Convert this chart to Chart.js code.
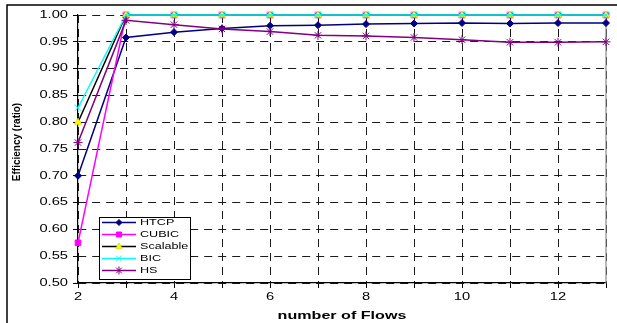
<!DOCTYPE html>
<html>
<head>
<meta charset="utf-8">
<script src="https://cdn.jsdelivr.net/npm/chart.js@4/dist/chart.umd.min.js"></script>
<style>
  html, body { margin: 0; padding: 0; background: #fff; }
  canvas { display: block; }
</style>
</head>
<body>
<canvas id="eff" width="617" height="323"></canvas>
<script>
// Number of parallel flows on the x axis
const flows = [2, 3, 4, 5, 6, 7, 8, 9, 10, 11, 12, 13];

// Efficiency ratio per TCP variant
const htcp     = [0.700, 0.958, 0.968, 0.975, 0.980, 0.981, 0.983, 0.984, 0.985, 0.984, 0.985, 0.985];
const cubic    = [0.575, 1.000, 1.000, 1.000, 1.000, 1.000, 1.000, 1.000, 1.000, 1.000, 1.000, 1.000];
const scalable = [0.800, 1.000, 1.000, 1.000, 1.000, 1.000, 1.000, 1.000, 1.000, 1.000, 1.000, 1.000];
const bic      = [0.827, 1.000, 1.000, 1.000, 1.000, 1.000, 1.000, 1.000, 1.000, 1.000, 1.000, 1.000];
const hs       = [0.762, 0.990, 0.982, 0.974, 0.969, 0.962, 0.961, 0.958, 0.954, 0.949, 0.949, 0.950];

const seriesNames = ['HTCP', 'CUBIC', 'Scalable', 'BIC', 'HS'];
const xTickLabels = ['2', '4', '6', '8', '10', '12'];
const yMin = 0.50, yMax = 1.00, yStep = 0.05;

const FONT = '"Liberation Sans", Arial, Helvetica, sans-serif';
const TEXT_SX = 1.4; // horizontal text is drawn slightly widened

const pts = arr => flows.map((x, i) => ({ x: x, y: arr[i] }));

function series(label, values, line, fill, stroke, style, radius, order) {
  return {
    label: label,
    data: pts(values),
    borderColor: line,
    backgroundColor: line,
    borderWidth: 1.5,
    pointStyle: style,
    pointRadius: radius,
    pointHoverRadius: radius,
    pointBackgroundColor: fill,
    pointBorderColor: stroke,
    pointBorderWidth: 1,
    tension: 0,
    clip: false,
    order: order
  };
}

const datasets = [
  series(seriesNames[0], htcp,     '#000080', '#000080', '#000080', 'rectRot',  3.5, 5),
  series(seriesNames[1], cubic,    '#FF00FF', '#FF00FF', '#FF00FF', 'rect',     4,   4),
  series(seriesNames[2], scalable, '#000000', '#FFFF00', '#E0E000', 'triangle', 4,   3),
  series(seriesNames[3], bic,      '#00FFFF', '#00FFFF', '#00FFFF', 'crossRot', 4.5, 2),
  series(seriesNames[4], hs,       '#800080', '#800080', '#800080', 'star',     4.5, 1)
];

// Widen glyphs horizontally (skipped for rotated text)
const wideText = {
  id: 'wideText',
  beforeInit(chart) {
    const ctx = chart.ctx;
    const base = CanvasRenderingContext2D.prototype.fillText;
    ctx.fillText = function (text, x, y, maxWidth) {
      const t = this.getTransform();
      if (Math.abs(t.b) > 1e-6 || Math.abs(t.c) > 1e-6) {
        return maxWidth === undefined ? base.call(this, text, x, y) : base.call(this, text, x, y, maxWidth);
      }
      this.save();
      this.translate(x, y);
      this.scale(TEXT_SX, 1);
      if (maxWidth === undefined) base.call(this, text, 0, 0);
      else base.call(this, text, 0, 0, maxWidth / TEXT_SX);
      this.restore();
    };
  }
};

// Outer frame, plot right edge, axis titles and the boxed legend
const decorations = {
  id: 'decorations',
  beforeDraw(chart) {
    const ctx = chart.ctx;
    ctx.save();
    ctx.strokeStyle = '#000';
    ctx.lineWidth = 1.5;
    ctx.beginPath();
    ctx.moveTo(7, chart.height);
    ctx.lineTo(7, 5);
    ctx.lineTo(chart.width, 5);
    ctx.stroke();
    ctx.restore();
  },
  beforeDatasetsDraw(chart) {
    const ctx = chart.ctx, a = chart.chartArea;
    ctx.save();
    ctx.strokeStyle = '#8a8a8a';
    ctx.lineWidth = 1.2;
    ctx.beginPath();
    ctx.moveTo(a.right, a.top);
    ctx.lineTo(a.right, a.bottom);
    ctx.stroke();
    ctx.restore();
  },
  afterDraw(chart) {
    const ctx = chart.ctx, a = chart.chartArea;
    ctx.save();
    // y axis title
    ctx.fillStyle = '#000';
    ctx.font = 'bold 10px ' + FONT;
    ctx.textAlign = 'center';
    ctx.textBaseline = 'middle';
    ctx.translate(17, 142);
    ctx.rotate(-Math.PI / 2);
    ctx.fillText('Efficiency (ratio)', 0, 0);
    ctx.restore();

    ctx.save();
    ctx.fillStyle = '#000';
    ctx.font = 'bold 11.5px ' + FONT;
    ctx.textAlign = 'center';
    ctx.textBaseline = 'alphabetic';
    ctx.fillText('number of Flows', (a.left + a.right) / 2, 319);
    ctx.restore();

    // legend box
    const left = a.left + 21, top = a.top + 202, w = 91, h = 62;
    ctx.save();
    ctx.fillStyle = '#fff';
    ctx.fillRect(left, top, w, h);
    ctx.strokeStyle = '#000';
    ctx.lineWidth = 1;
    ctx.strokeRect(left + 0.5, top + 0.5, w, h);
    chart.data.datasets.forEach((ds, i) => {
      const y = top + 5.5 + i * 12;
      ctx.strokeStyle = ds.borderColor;
      ctx.lineWidth = 1.5;
      ctx.beginPath();
      ctx.moveTo(left + 3, y);
      ctx.lineTo(left + 37, y);
      ctx.stroke();
      if (Chart.helpers && Chart.helpers.drawPoint) {
        ctx.fillStyle = ds.pointBackgroundColor;
        ctx.strokeStyle = ds.pointBorderColor;
        ctx.lineWidth = 1;
        Chart.helpers.drawPoint(ctx, {
          pointStyle: ds.pointStyle, radius: ds.pointRadius - 0.5, rotation: 0, borderWidth: 1
        }, left + 20, y);
      }
      ctx.fillStyle = '#000';
      ctx.font = '9px ' + FONT;
      ctx.textAlign = 'left';
      ctx.textBaseline = 'middle';
      ctx.fillText(ds.label, left + 41, y + 0.5);
    });
    ctx.restore();
  }
};

new Chart(document.getElementById('eff'), {
  type: 'line',
  data: { datasets: datasets },
  plugins: [wideText, decorations],
  options: {
    responsive: false,
    animation: false,
    devicePixelRatio: 1,
    layout: { padding: { top: 15, right: 11, left: 0, bottom: 0 } },
    plugins: { legend: { display: false }, tooltip: { enabled: false } },
    scales: {
      x: {
        type: 'linear',
        min: flows[0],
        max: flows[flows.length - 1],
        afterFit(scale) { scale.height = 40; },
        ticks: {
          stepSize: 1,
          autoSkip: false,
          maxRotation: 0,
          padding: 3,
          color: '#000',
          font: { family: FONT, size: 10.5 },
          callback: v => (xTickLabels.includes(String(v)) ? String(v) : '')
        },
        grid: { color: '#1a1a1a', lineWidth: 1, tickLength: 5, tickColor: '#000', tickWidth: 1 },
        border: { display: true, color: '#000', width: 1.2, dash: [8, 6] }
      },
      y: {
        min: yMin,
        max: yMax,
        afterFit(scale) { scale.width = 78; },
        ticks: {
          stepSize: yStep,
          padding: 5,
          color: '#000',
          font: { family: FONT, size: 10.5 },
          callback: v => Number(v).toFixed(2)
        },
        grid: { color: '#1a1a1a', lineWidth: 1, tickLength: 5, tickColor: '#000', tickWidth: 1 },
        border: { display: true, color: '#000', width: 1.2, dash: [8, 6] }
      }
    }
  }
});
</script>
</body>
</html>
